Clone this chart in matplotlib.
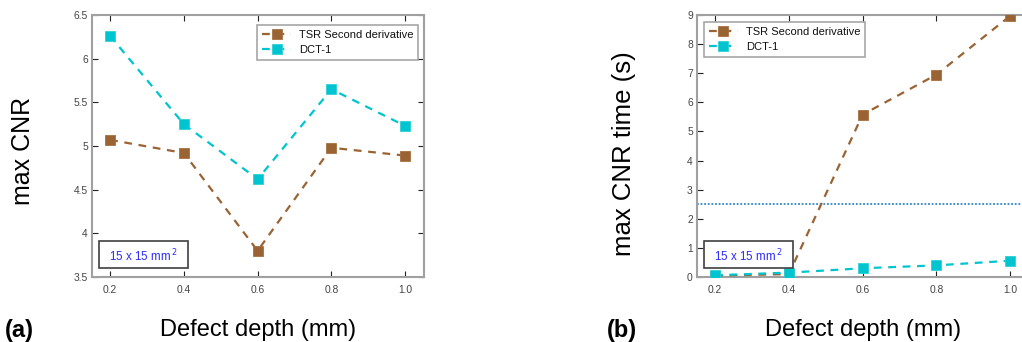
import matplotlib
matplotlib.use("Agg")
import matplotlib.pyplot as plt
from matplotlib.patches import Rectangle

plt.rcParams['font.family'] = ['Liberation Sans', 'DejaVu Sans']

depth = [0.2, 0.4, 0.6, 0.8, 1.0]
xtick_labels = ['0.2', '0.4', '0.6', '0.8', '1.0']

cnr_tsr = [5.07, 4.92, 3.80, 4.98, 4.89]
cnr_dct = [6.26, 5.25, 4.62, 5.65, 5.23]
cnr_yticks = [3.5, 4, 4.5, 5, 5.5, 6, 6.5]
cnr_ylabels = ['3.5', '4', '4.5', '5', '5.5', '6', '6.5']

time_tsr = [0.05, 0.10, 5.58, 6.95, 8.97]
time_dct = [0.06, 0.15, 0.30, 0.40, 0.56]
time_yticks = [0, 1, 2, 3, 4, 5, 6, 7, 8, 9]
time_ylabels = [str(v) for v in time_yticks]
threshold = 2.5

series_names = ['TSR Second derivative', 'DCT-1']
brown = '#9a6333'
cyan = '#00c4cf'
dot_blue = '#2f86c9'
spine_gray = '#a0a0a0'

W, H = 1022, 342
fig = plt.figure(figsize=(W / 100, H / 100), dpi=100)

def make_axes(left_px):
    return fig.add_axes([left_px / W, 1 - 277 / H, 332 / W, 262 / H])

def style(ax, yticks, ylabels, ylim):
    ax.set_xlim(0.151, 1.051)
    ax.set_ylim(*ylim)
    ax.set_xticks(depth)
    ax.set_xticklabels(xtick_labels)
    ax.set_yticks(yticks)
    ax.set_yticklabels(ylabels)
    for s in ax.spines.values():
        s.set_color(spine_gray)
        s.set_linewidth(1.5)
    ax.tick_params(direction='in', length=4, width=0.8, color='#222222',
                   labelsize=7.4, labelcolor='#444444', top=True, right=True)
    ax.tick_params(axis='x', pad=6)
    ax.tick_params(axis='y', pad=3)

def draw(ax, tsr, dct, legend_loc, legend_anchor):
    l1, = ax.plot(depth, tsr, linestyle=(0, (3.5, 3)), color=brown, lw=1.6,
                  marker='s', markersize=7.5, markerfacecolor=brown,
                  markeredgecolor='#a8703f', markeredgewidth=0.6, zorder=3)
    l2, = ax.plot(depth, dct, linestyle=(0, (3.5, 3)), color=cyan, lw=1.6,
                  marker='s', markersize=7.5, markerfacecolor=cyan,
                  markeredgecolor='#30d0d8', markeredgewidth=0.6, zorder=4)
    leg = ax.legend([l1, l2], series_names, loc=legend_loc, bbox_to_anchor=legend_anchor,
                    fontsize=8, frameon=True, fancybox=False, handlelength=2.6,
                    borderpad=0.45, labelspacing=0.45, handletextpad=0.7, borderaxespad=0)
    leg.get_frame().set_edgecolor('#909090')
    leg.get_frame().set_linewidth(1.2)
    for t in leg.get_texts():
        t.set_color('#111111')

def area_box(ax):
    x0, y0 = 7 / 332, 9 / 262
    w, h = 89 / 332, 27 / 262
    ax.add_patch(Rectangle((x0, y0), w, h, transform=ax.transAxes, fill=True,
                           facecolor='white', edgecolor='#404040', lw=1.2, zorder=5))
    ax.text(x0 + w / 2, y0 + h / 2 - 0.005, r'15 x 15 mm$^{\,2}$', transform=ax.transAxes,
            ha='center', va='center', fontsize=8.4, color='#2a2aff', zorder=6)

# (a)
ax1 = make_axes(92)
style(ax1, cnr_yticks, cnr_ylabels, (3.5, 6.5))
draw(ax1, cnr_tsr, cnr_dct, 'upper right', (0.983, 0.962))
area_box(ax1)
ax1.set_ylabel('max CNR', fontsize=18)
ax1.yaxis.set_label_coords(-0.172, 0.48)
ax1.set_xlabel('Defect depth (mm)', fontsize=17, labelpad=17)

# (b)
ax2 = make_axes(697)
style(ax2, time_yticks, time_ylabels, (0, 9))
ax2.axhline(threshold, color=dot_blue, linestyle=(0, (1, 1)), lw=1.3, zorder=2)
draw(ax2, time_tsr, time_dct, 'upper left', (7 / 332, 0.974))
area_box(ax2)
ax2.set_ylabel('max CNR time (s)', fontsize=18.5)
ax2.yaxis.set_label_coords(-0.184, 0.47)
ax2.set_xlabel('Defect depth (mm)', fontsize=17, labelpad=17)

fig.text(5 / W, 1 - 337 / H, '(a)', fontsize=17, fontweight='bold', ha='left', va='baseline')
fig.text(607 / W, 1 - 337 / H, '(b)', fontsize=17, fontweight='bold', ha='left', va='baseline')

fig.savefig('out.png', dpi=100)
